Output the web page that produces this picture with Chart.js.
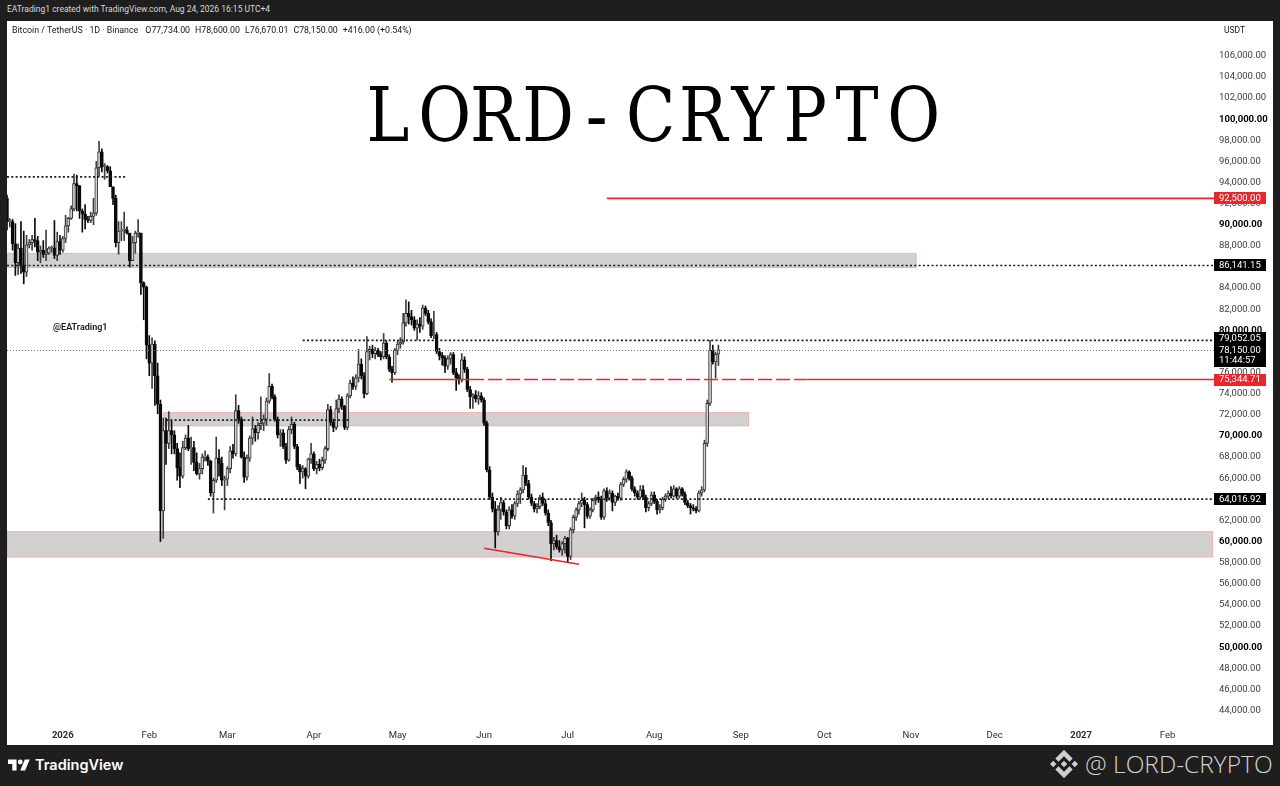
<!DOCTYPE html>
<html>
<head>
<meta charset="utf-8">
<title>BTC/USDT 1D</title>
<script src="https://cdn.jsdelivr.net/npm/chart.js@4.4.1/dist/chart.umd.min.js"></script>
<style>
  html, body { margin:0; padding:0; }
  body { width:1280px; height:786px; background:#1e1e1e; position:relative; overflow:hidden; font-family: Roboto, 'Noto Sans', sans-serif; }
  #topline { position:absolute; left:7px; top:4px; font-size:8.5px; color:#d8d8d8; white-space:nowrap; }
  #panel { position:absolute; left:7px; top:21px; width:1266px; height:724px; background:#fff; }
  #cv { position:absolute; left:0; top:0; }
  #legendline { position:absolute; left:12px; top:25px; font-size:8.8px; color:#131722; white-space:nowrap; }
  #legendline span { margin-left:5px; }
  #usdt { position:absolute; left:1224px; top:25px; font-size:8.5px; color:#131722; }
  #handle { position:absolute; left:53px; top:322px; font-size:9px; font-weight:600; color:#131722; }
  #wm { position:absolute; left:362px; top:78px; height:75px; line-height:75px; font-family:'DejaVu Serif', serif; font-size:75px; color:#000; white-space:nowrap; }
  #wm span { display:inline-block; width:52.1px; text-align:center; }
  #wm span i { font-style:normal; display:inline-block; transform:scaleX(0.86); }
  #tv { position:absolute; left:8px; top:756px; display:flex; align-items:center; color:#fff; font-family:Inter, Roboto, sans-serif; font-weight:600; font-size:14.5px; }
  #tv svg { margin-right:5px; }
  #brand { position:absolute; left:1050px; top:747px; display:flex; align-items:center; color:#d2d2d2; font-family:'Open Sans', Lato, sans-serif; font-weight:300; font-size:24.5px; white-space:nowrap; }
  #brand svg { margin-right:7px; }
</style>
</head>
<body>
<div id="topline">EATrading1 created with TradingView.com, Aug 24, 2026 16:15 UTC+4</div>
<div id="panel"><canvas id="cv" width="1266" height="724"></canvas></div>
<div id="legendline">Bitcoin / TetherUS · 1D · Binance <span>O77,734.00</span><span>H78,600.00</span><span>L76,670.01</span><span>C78,150.00</span><span>+416.00 (+0.54%)</span></div>
<div id="usdt">USDT</div>
<div id="handle">@EATrading1</div>
<div id="wm"></div>
<div id="tv"><svg width="22" height="15" viewBox="0 0 36 24"><path d="M14 22H7V11H0V4h14v18z" fill="#fff"/><circle cx="20" cy="8" r="4" fill="#fff"/><path d="M28 22h-8l7.5-18h8L28 22z" fill="#fff"/></svg>TradingView</div>
<div id="brand"><svg width="28" height="28" viewBox="0 0 126 126"><path fill="#cfcfcf" d="M38.2 52.9 63 28.1l24.8 24.8 14.4-14.4L63-.7 23.8 38.5zM0 63l14.4-14.4L28.8 63 14.4 77.4zM38.2 73.1 63 97.9l24.8-24.8 14.4 14.4L63 126.7 23.8 87.5zM97.2 63l14.4-14.4L126 63l-14.4 14.4zM77.6 63 63 48.4 48.4 63 63 77.6z"/></svg>@ LORD-CRYPTO</div>

<script>
// ---------------- DATA (prices in thousands of USDT) ----------------
const startDate = '2025-12-12';   // first candle
const axisDays = 434;             // days shown on the time axis (to mid Feb 2027)

const opens = [
  92.5,90.3,90.3,88.2,86.4,87.8,86.1,85.5,88.1,88.3,
  88.6,88.5,87.4,87.6,87.2,87.3,87.8,87.8,87.1,88.4,
  87.6,88.7,89.9,90.6,91.5,93.9,93.7,91.3,91.0,90.5,
  90.4,90.8,91.1,95.4,96.9,95.5,95.5,95.1,93.6,92.5,
  88.3,89.4,89.5,89.5,89.2,86.6,88.3,89.2,89.2,84.5,
  84.1,78.6,76.9,78.7,75.7,73.0,62.9,70.5,69.3,70.5,
  70.1,68.8,67.0,66.2,68.9,69.8,68.8,68.9,67.5,66.4,
  66.9,68.0,68.0,67.6,64.6,65.8,67.9,67.4,65.8,65.9,
  66.9,68.6,68.3,72.4,71.6,68.0,66.1,67.9,69.8,70.7,
  70.3,71.0,71.2,71.6,73.3,74.7,73.7,71.6,70.1,70.3,
  69.0,67.7,70.6,71.1,69.0,67.1,66.6,66.9,66.2,67.8,
  68.3,66.9,67.3,67.0,67.7,68.8,72.5,71.3,70.8,72.6,
  73.5,72.8,70.8,73.8,75.0,74.7,75.5,76.8,75.7,74.0,
  78.0,78.2,77.8,78.1,77.7,77.5,78.8,77.5,76.3,76.0,
  78.1,78.7,78.9,80.7,81.6,81.3,81.0,80.2,80.6,80.4,
  82.1,81.6,80.8,79.5,79.6,78.0,77.6,77.4,76.6,77.3,
  77.7,76.0,75.5,75.3,77.2,76.3,74.4,73.7,73.9,73.5,
  73.8,73.4,71.2,66.8,64.2,63.1,60.9,63.0,63.7,62.8,
  61.5,63.0,62.4,63.6,64.5,64.9,66.3,65.5,64.2,63.6,
  63.1,63.3,64.2,63.6,62.7,61.8,59.8,60.1,59.5,59.2,
  59.8,60.3,58.6,61.1,62.3,63.0,63.6,63.9,63.5,62.4,
  63.0,63.9,64.2,64.0,62.3,64.8,64.1,64.6,63.7,64.3,
  64.1,65.4,65.9,66.6,66.0,65.0,64.6,64.2,64.9,64.2,
  63.2,63.6,64.4,63.8,63.0,63.2,64.0,64.3,64.6,64.3,
  65.0,64.3,65.0,64.5,63.7,63.4,63.2,63.1,62.9,64.6,
  64.9,69.3,73.1,78.1,77.0,77.734
];
const highs = [
  92.8,90.6,90.5,90.1,88.2,90.3,89.4,89.0,88.6,89.0,
  90.6,88.9,88.0,88.5,89.5,87.9,88.0,90.4,89.3,89.0,
  88.9,90.9,90.7,91.8,94.8,94.7,93.7,91.5,91.9,90.8,
  91.2,92.5,96.0,97.9,97.2,95.8,95.6,95.5,93.6,92.8,
  90.3,90.3,91.2,89.8,89.2,88.9,89.4,90.5,89.2,84.6,
  84.2,79.5,79.3,79.0,76.9,73.4,71.7,71.7,72.3,71.4,
  70.5,69.3,68.4,69.5,70.1,71.0,69.9,69.5,68.4,67.4,
  68.3,68.6,68.2,67.7,66.0,69.9,68.7,68.0,66.2,67.1,
  69.0,69.2,73.9,72.9,71.8,68.5,68.2,70.0,71.8,71.0,
  71.3,73.7,72.0,73.6,75.9,74.9,73.9,71.8,70.6,70.6,
  69.3,70.9,71.8,71.3,69.2,67.3,67.2,67.0,67.9,69.3,
  68.5,67.6,67.8,68.0,69.0,73.0,72.8,71.6,73.4,73.9,
  73.7,72.9,74.0,75.3,75.6,75.8,78.2,77.3,76.0,79.4,
  78.5,78.6,78.4,78.3,78.0,79.7,79.0,77.7,76.6,78.3,
  79.0,79.3,81.6,82.9,82.7,81.9,81.3,81.0,81.2,82.4,
  82.3,81.9,81.1,81.8,79.8,78.3,77.9,77.6,77.6,77.9,
  77.9,76.4,75.8,77.8,77.5,76.5,74.7,74.0,74.3,74.2,
  74.1,73.6,71.4,67.1,64.6,63.8,63.4,64.2,63.9,63.0,
  63.3,63.5,63.8,64.8,65.1,67.2,67.0,65.8,64.5,63.8,
  63.6,64.4,64.6,64.0,63.0,62.0,60.4,60.6,60.1,60.0,
  60.5,60.4,61.3,62.5,63.2,63.8,64.6,64.2,63.7,63.2,
  64.1,64.4,64.7,64.3,65.0,65.1,64.9,64.8,64.4,64.6,
  65.6,66.1,66.8,66.7,66.2,65.2,64.8,65.3,65.3,64.4,
  63.8,64.7,64.7,64.0,63.5,64.2,64.5,64.8,65.2,65.3,
  65.1,65.2,65.1,64.7,63.9,63.6,63.5,63.3,64.8,65.2,
  69.6,73.4,79.05205,78.6,77.9,78.6
];
const lows = [
  89.5,89.8,87.6,85.2,85.3,85.4,84.4,85.1,87.8,87.6,
  87.9,86.6,86.4,86.9,86.6,87.2,87.4,86.8,86.6,87.2,
  87.4,88.3,89.3,90.5,91.3,91.3,90.6,89.3,89.6,90.2,
  90.2,90.0,90.9,94.6,95.0,94.3,94.9,93.6,91.9,87.9,
  87.2,88.5,88.5,89.1,86.0,86.6,87.3,88.8,83.4,81.0,
  77.3,75.7,74.5,72.9,72.1,60.0,60.3,67.3,68.8,68.3,
  68.3,65.8,65.1,66.0,68.7,68.6,67.3,66.7,66.3,65.9,
  66.4,67.6,67.2,64.3,62.7,65.6,66.2,65.3,63.0,65.3,
  66.5,67.9,68.1,71.2,67.9,65.6,65.8,67.6,69.2,69.5,
  69.7,70.6,70.5,71.0,73.1,73.5,71.4,69.8,69.0,68.8,
  67.4,67.6,70.2,68.8,66.8,65.5,66.0,65.0,66.0,67.4,
  66.7,66.4,66.7,66.8,67.4,68.6,71.0,70.4,70.6,72.2,
  72.5,70.6,70.6,73.6,74.4,74.4,75.1,75.4,73.6,73.9,
  77.2,77.4,77.3,77.5,77.2,77.3,77.3,76.1,75.1,75.8,
  77.7,78.3,78.7,80.4,80.6,80.5,80.0,79.1,79.8,80.1,
  81.4,80.6,79.3,79.2,77.8,77.2,76.7,76.0,76.3,76.8,
  75.8,74.3,74.9,75.1,76.0,74.2,72.6,72.6,73.2,73.0,
  73.2,71.0,66.6,64.0,62.8,59.4,60.6,62.1,62.5,61.2,
  61.2,62.2,62.1,63.3,63.6,64.6,65.3,64.0,63.4,62.8,
  62.7,63.1,63.4,62.5,61.5,58.2,59.2,59.3,59.0,58.7,
  58.9,58.0,58.3,60.8,62.0,62.6,63.3,61.3,62.2,62.2,
  62.8,63.5,63.7,62.1,62.1,63.8,63.9,62.9,63.4,63.9,
  63.9,65.2,65.6,65.8,64.8,64.3,64.0,64.0,64.0,62.8,
  62.9,63.4,63.6,62.6,62.7,63.0,63.8,64.1,64.1,64.2,
  64.1,64.1,64.3,63.5,63.2,62.6,62.9,62.7,62.8,64.3,
  64.7,69.0,72.9,76.8,75.5,76.67001
];
const closes = [
  90.3,90.3,88.2,86.4,87.8,86.1,85.5,88.1,88.3,88.6,
  88.5,87.4,87.6,87.2,87.3,87.8,87.8,87.1,88.4,87.6,
  88.7,89.9,90.6,91.5,93.9,93.7,91.3,91.0,90.5,90.4,
  90.8,91.1,95.4,96.9,95.5,95.5,95.1,93.6,92.5,88.3,
  89.4,89.5,89.5,89.2,86.6,88.3,89.2,89.2,84.5,84.1,
  78.6,76.9,78.7,75.7,73.0,62.9,70.5,69.3,70.5,70.1,
  68.8,67.0,66.2,68.9,69.8,68.8,68.9,67.5,66.4,66.9,
  68.0,68.0,67.6,64.6,65.8,67.9,67.4,65.8,65.9,66.9,
  68.6,68.3,72.4,71.6,68.0,66.1,67.9,69.8,70.7,70.3,
  71.0,71.2,71.6,73.3,74.7,73.7,71.6,70.1,70.3,69.0,
  67.7,70.6,71.1,69.0,67.1,66.6,66.9,66.2,67.8,68.3,
  66.9,67.3,67.0,67.7,68.8,72.5,71.3,70.8,72.6,73.5,
  72.8,70.8,73.8,75.0,74.7,75.5,76.8,75.7,74.0,78.0,
  78.2,77.8,78.1,77.7,77.5,78.8,77.5,76.3,76.0,78.1,
  78.7,78.9,80.7,81.6,81.3,81.0,80.2,80.6,80.4,82.1,
  81.6,80.8,79.5,79.6,78.0,77.6,77.4,76.6,77.3,77.7,
  76.0,75.5,75.3,77.2,76.3,74.4,73.7,73.9,73.5,73.8,
  73.4,71.2,66.8,64.2,63.1,60.9,63.0,63.7,62.8,61.5,
  63.0,62.4,63.6,64.5,64.9,66.3,65.5,64.2,63.6,63.1,
  63.3,64.2,63.6,62.7,61.8,59.8,60.1,59.5,59.2,59.8,
  60.3,58.6,61.1,62.3,63.0,63.6,63.9,63.5,62.4,63.0,
  63.9,64.2,64.0,62.3,64.8,64.1,64.6,63.7,64.3,64.1,
  65.4,65.9,66.6,66.0,65.0,64.6,64.2,64.9,64.2,63.2,
  63.6,64.4,63.8,63.0,63.2,64.0,64.3,64.6,64.3,65.0,
  64.3,65.0,64.5,63.7,63.4,63.2,63.1,62.9,64.6,64.9,
  69.3,73.1,78.1,77.0,77.734,78.15
];

// price-axis ticks (USDT)
const priceTicks = [44000,46000,48000,50000,52000,54000,56000,58000,60000,62000,64000,66000,68000,70000,72000,74000,76000,78000,80000,82000,84000,86000,88000,90000,92000,94000,96000,98000,100000,102000,104000,106000];
// time-axis ticks
const xTickDates  = ['2026-01-01','2026-02-01','2026-03-01','2026-04-01','2026-05-01','2026-06-01','2026-07-01','2026-08-01','2026-09-01','2026-10-01','2026-11-01','2026-12-01','2027-01-01','2027-02-01'];
const xTickLabels = ['2026','Feb','Mar','Apr','May','Jun','Jul','Aug','Sep','Oct','Nov','Dec','2027','Feb'];

// drawn zones (USDT)
const zoneLows   = [85900, 70920, 58500];
const zoneHighs  = [87330, 72250, 60970];
const zoneStarts = [null, '2026-02-06', null];
const zoneEnds   = ['2026-11-03', '2026-09-04', null];

// dotted horizontal levels
const dottedValues = [94530, 86141.15, 79052.05, 71500, 64016.92];
const dottedStarts = [null, null, '2026-03-28', '2026-02-07', '2026-02-22'];
const dottedEnds   = ['2026-01-24', null, null, '2026-04-14', null];

// red horizontal levels
const redValues = [92500, 75344.71];
const redStarts = ['2026-07-15', '2026-04-28'];
const redDashFrom = [null, '2026-05-27'];
const redDashTo   = [null, '2026-09-25'];

// red trend line
const trendDates  = ['2026-06-01', '2026-07-05'];
const trendValues = [59360, 57850];

// price-scale labels
const badgeValues = [92500, 86141.15, 75344.71, 64016.92];
const badgeTexts  = ['92,500.00', '86,141.15', '75,344.71', '64,016.92'];
const badgeKinds  = ['red', 'black', 'red', 'black'];
const lastPrice = 78150;
const lastPriceText = '78,150.00';
const countdownText = '11:44:57';
const highBadgeValue = 79052.05;
const highBadgeText = '79,052.05';

const watermark = 'LORD-CRYPTO';

// ---------------- BUILD ----------------
const labels = [];
{
  const [yy, mm, dd] = startDate.split('-').map(Number);
  for (let i = 0; i < axisDays; i++) {
    labels.push(new Date(Date.UTC(yy, mm - 1, dd + i)).toISOString().slice(0, 10));
  }
}
const dayIndex = d => labels.indexOf(d);
const nCandles = closes.length;
const upFlags = closes.map((c, i) => c >= opens[i]);
const wickData = labels.map((_, i) => i < nCandles ? [lows[i] * 1000, highs[i] * 1000] : null);
const bodyData = labels.map((_, i) => i < nCandles ? [Math.min(opens[i], closes[i]) * 1000, Math.max(opens[i], closes[i]) * 1000] : null);
const wickColors = labels.map((_, i) => i < nCandles && upFlags[i] ? '#3f3f3f' : '#0a0a0a');
const bodyFill   = labels.map((_, i) => i < nCandles && upFlags[i] ? '#d2d2d2' : '#0a0a0a');
const bodyEdge   = labels.map((_, i) => i < nCandles && upFlags[i] ? '#333333' : '#0a0a0a');

const wmEl = document.getElementById('wm');
for (const ch of watermark) { const s = document.createElement('span'); const it = document.createElement('i'); it.textContent = ch; s.appendChild(it); wmEl.appendChild(s); }

const RED = '#e8262b';
const fmt = v => v.toLocaleString('en-US', { minimumFractionDigits: 2, maximumFractionDigits: 2 });

const levelsPlugin = {
  id: 'levels',
  beforeDatasetsDraw(chart) {
    const { ctx, chartArea: a, scales: { x, y } } = chart;
    ctx.save();
    for (let i = 0; i < zoneLows.length; i++) {
      const x0 = zoneStarts[i] ? x.getPixelForValue(dayIndex(zoneStarts[i])) : a.left;
      const x1 = zoneEnds[i] ? x.getPixelForValue(dayIndex(zoneEnds[i])) : a.right - 2;
      const y0 = y.getPixelForValue(zoneHighs[i]);
      const y1 = y.getPixelForValue(zoneLows[i]);
      ctx.fillStyle = '#d3d0d0';
      ctx.fillRect(x0, y0, x1 - x0, y1 - y0);
      ctx.strokeStyle = '#f2b3b3';
      ctx.lineWidth = 1;
      ctx.strokeRect(x0 + 0.5, y0 + 0.5, x1 - x0 - 1, y1 - y0 - 1);
    }
    ctx.restore();
  },
  afterDatasetsDraw(chart) {
    const { ctx, chartArea: a, scales: { x, y } } = chart;
    ctx.save();
    // last price line
    ctx.strokeStyle = '#777';
    ctx.lineWidth = 1;
    ctx.setLineDash([1, 2]);
    let yy = Math.round(y.getPixelForValue(lastPrice)) + 0.5;
    ctx.beginPath(); ctx.moveTo(a.left, yy); ctx.lineTo(a.right, yy); ctx.stroke();
    // dotted levels
    ctx.strokeStyle = '#1a1a1a';
    ctx.lineWidth = 1.6;
    ctx.setLineDash([2, 2.3]);
    for (let i = 0; i < dottedValues.length; i++) {
      const x0 = dottedStarts[i] ? x.getPixelForValue(dayIndex(dottedStarts[i])) : a.left;
      const x1 = dottedEnds[i] ? x.getPixelForValue(dayIndex(dottedEnds[i])) : a.right;
      yy = y.getPixelForValue(dottedValues[i]);
      ctx.beginPath(); ctx.moveTo(x0, yy); ctx.lineTo(x1, yy); ctx.stroke();
    }
    // red levels
    ctx.strokeStyle = RED;
    ctx.lineWidth = 1.6;
    for (let i = 0; i < redValues.length; i++) {
      const x0 = x.getPixelForValue(dayIndex(redStarts[i]));
      yy = y.getPixelForValue(redValues[i]);
      if (redDashFrom[i]) {
        const xd0 = x.getPixelForValue(dayIndex(redDashFrom[i]));
        const xd1 = x.getPixelForValue(dayIndex(redDashTo[i]));
        ctx.setLineDash([]);
        ctx.beginPath(); ctx.moveTo(x0, yy); ctx.lineTo(xd0, yy); ctx.moveTo(xd1, yy); ctx.lineTo(a.right, yy); ctx.stroke();
        ctx.setLineDash([14, 4]);
        ctx.beginPath(); ctx.moveTo(xd0, yy); ctx.lineTo(xd1, yy); ctx.stroke();
      } else {
        ctx.setLineDash([]);
        ctx.beginPath(); ctx.moveTo(x0, yy); ctx.lineTo(a.right, yy); ctx.stroke();
      }
    }
    // trend line
    ctx.setLineDash([]);
    ctx.lineWidth = 1.6;
    ctx.beginPath();
    ctx.moveTo(x.getPixelForValue(dayIndex(trendDates[0])), y.getPixelForValue(trendValues[0]));
    ctx.lineTo(x.getPixelForValue(dayIndex(trendDates[1])), y.getPixelForValue(trendValues[1]));
    ctx.stroke();
    ctx.restore();
  },
  afterDraw(chart) {
    const { ctx, chartArea: a, scales: { y } } = chart;
    const bx = a.right - 1, bw = 52, bh = 12;
    ctx.save();
    ctx.font = '9.5px Roboto, sans-serif';
    ctx.textBaseline = 'middle';
    ctx.textAlign = 'left';
    const badge = (cy, text, bg) => {
      ctx.fillStyle = bg;
      ctx.fillRect(bx, Math.round(cy - bh / 2), bw, bh);
      ctx.fillStyle = '#fff';
      ctx.fillText(text, a.right + 4, cy + 0.5);
    };
    for (let i = 0; i < badgeValues.length; i++) {
      badge(y.getPixelForValue(badgeValues[i]), badgeTexts[i], badgeKinds[i] === 'red' ? RED : '#000');
    }
    // current price + countdown box, with the high label stacked above it
    const cy = y.getPixelForValue(lastPrice);
    const top = Math.round(cy - 6);
    ctx.fillStyle = '#000';
    ctx.fillRect(bx, top - 12, bw, 12 + 23);
    ctx.fillStyle = '#fff';
    ctx.fillText(highBadgeText, a.right + 4, top - 6 + 0.5);
    ctx.fillText(lastPriceText, a.right + 4, top + 6 + 0.5);
    ctx.fillText(countdownText, a.right + 4, top + 16.5);
    ctx.restore();
  }
};

new Chart(document.getElementById('cv'), {
  type: 'bar',
  data: {
    labels,
    datasets: [
      { label: 'wick', data: wickData, backgroundColor: wickColors, barThickness: 1, grouped: false, order: 2 },
      { label: 'body', data: bodyData, backgroundColor: bodyFill, borderColor: bodyEdge, borderWidth: 1, borderSkipped: false, barThickness: 3, minBarLength: 1, grouped: false, order: 1 }
    ]
  },
  options: {
    responsive: false,
    animation: false,
    events: [],
    layout: { padding: 0 },
    plugins: { legend: { display: false }, tooltip: { enabled: false } },
    scales: {
      x: {
        type: 'category',
        offset: false,
        grid: { display: false, drawTicks: false },
        border: { display: false },
        afterBuildTicks: s => { s.ticks = xTickDates.map(d => ({ value: dayIndex(d) })); },
        afterFit: s => { s.height = 23; s.paddingLeft = 0; s.paddingRight = 0; },
        ticks: {
          autoSkip: false, maxRotation: 0, minRotation: 0, padding: 8,
          color: '#2a2e39',
          font: c => ({ family: 'Roboto, sans-serif', size: 9.5, weight: /^\d{4}$/.test(xTickLabels[c.index] || '') ? 'bold' : 'normal' }),
          callback: (v, i) => xTickLabels[i]
        }
      },
      y: {
        position: 'right',
        min: 42911,
        max: 109294,
        grid: { display: false, drawTicks: false },
        border: { display: false },
        afterBuildTicks: s => { s.ticks = priceTicks.map(v => ({ value: v })); },
        afterFit: s => { s.width = 58; s.paddingTop = 0; s.paddingBottom = 0; },
        ticks: {
          padding: 4,
          color: c => (c.tick && c.tick.value % 10000 === 0) ? '#000' : '#3a3d45',
          font: c => ({ family: 'Roboto, sans-serif', size: 9.5, weight: (c.tick && c.tick.value % 10000 === 0) ? 'bold' : 'normal' }),
          callback: v => fmt(v)
        }
      }
    }
  },
  plugins: [levelsPlugin]
});
</script>
</body>
</html>
